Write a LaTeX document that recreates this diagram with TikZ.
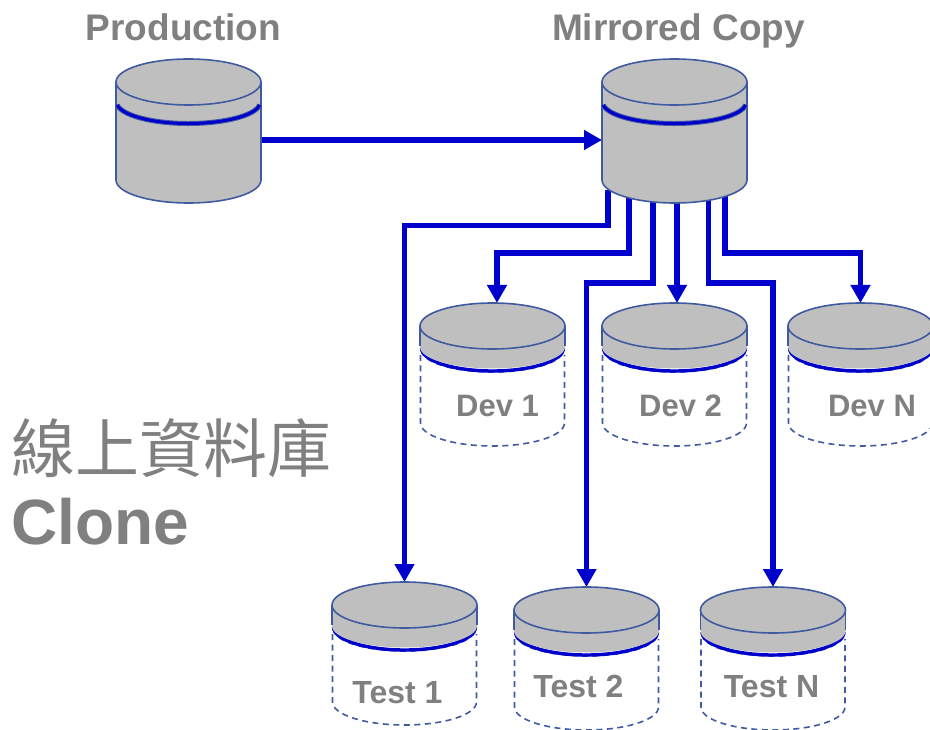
\documentclass[tikz,border=0pt]{standalone}
\usepackage{fontspec}
\usepackage{xcolor}
\usetikzlibrary{arrows.meta}
\usetikzlibrary{calc}
\usetikzlibrary{backgrounds}
\setmainfont{Liberation Sans}
\newfontfamily\cjk{Noto Sans CJK TC}

\definecolor{diskgray}{HTML}{BFBFBF}
\definecolor{diskline}{HTML}{3F5AA0}
\definecolor{linkblue}{HTML}{0000CC}
\definecolor{textgray}{HTML}{808080}

\tikzset{
  diskedge/.style={draw=diskline, line width=1.6pt},
  link/.style={draw=linkblue, line width=5.7pt, -{Triangle[length=18pt,width=19pt]}},
  toplabel/.style={text=textgray, inner sep=0pt, anchor=base, font=\fontsize{37}{40}\selectfont\bfseries},
  disklabel/.style={text=textgray, inner sep=0pt, anchor=base, font=\fontsize{31}{34}\selectfont\bfseries},
  testlabel/.style={text=textgray, inner sep=0pt, anchor=base, font=\fontsize{32}{34}\selectfont\bfseries},
  fulldisk/.pic={
    \coordinate (-top) at (0,0);
    \path[fill=diskgray, diskedge] (-72.5,-23) -- (-72.5,-121) arc[start angle=180,end angle=360,x radius=72.5,y radius=23] -- (72.5,-23);
    \path[fill=diskgray, diskedge] (0,-23) ellipse [x radius=72.5,y radius=23];
    \draw[diskline, line width=5pt] (-71.3,-46) arc[start angle=188,end angle=352,x radius=72,y radius=21.5];
    \draw[linkblue, line width=3pt] (-71.3,-46) arc[start angle=188,end angle=352,x radius=72,y radius=21.5];
  },
  shortdisk/.pic={
    \coordinate (-top) at (0,0);
    % Empty part
    \draw[diskline, line width=1.6pt, dash pattern=on 6pt off 4.5pt] (-72,-52) -- (-72,-120) arc[start angle=180,end angle=360,x radius=72,y radius=23] -- (72,-52);
    \draw[diskline, line width=1.6pt, dash pattern=on 6pt off 4.5pt] (-71,-47) arc[start angle=180,end angle=360,x radius=71,y radius=22];
    % Used part
    \draw[linkblue, line width=3.4pt] (-71,-45) arc[start angle=180,end angle=360,x radius=71,y radius=23];
    \path[fill=diskgray, draw=none] (-72.5,-23) -- (-72.5,-44) arc[start angle=180,end angle=360,x radius=72.5,y radius=21.5] -- (72.5,-23);
    \draw[diskedge] (-72.5,-23) -- (-72.5,-43);
    \draw[diskedge] (72.5,-23) -- (72.5,-43);
    \path[fill=diskgray, diskedge] (0,-23) ellipse [x radius=72.5,y radius=23];
  }
}

\begin{document}
\begin{tikzpicture}[x=1pt,y=1pt]

        \useasboundingbox (0,0) rectangle (930,-730);

        % Disks
        \pic (Prod) at (188.5,-59) {fulldisk};
        \pic (Mirror) at (674.5,-59) {fulldisk};
        \foreach \n/\x/\y in {Dev1/492.5/303,Dev2/674.5/303,DevN/860.5/303,Test1/404.5/582,Test2/586.5/587,TestN/773/587}
        {
          \pic (\n) at (\x,-\y) {shortdisk};
        }

        % Connectors
        \coordinate (ProdOut) at ($(Prod-top)+(72.5,-81)$);
        \coordinate (MirrorIn) at ($(Mirror-top)+(-72.5,-81)$);
        \begin{pgfonlayer}{background}
        \draw[link] (ProdOut) -- (MirrorIn);
        \foreach \a/\b/\h/\t in {-66.5/Test1/35.5/0,-45.5/Dev1/63/4.5,-21.5/Test2/93/0,34/TestN/93/0,50.5/DevN/63/0}
        {
          \coordinate (Out\b) at ($(Mirror-top)+(\a,-131)$);
          \draw[link] (Out\b) -- ++(0,-\h) -| ($(\b-top)+(\t,0)$);
        }
        \coordinate (OutDev2) at ($(Dev2-top)+(2.5,-0)$);
        \draw[link] (OutDev2 |- OutDev1) -- (OutDev2);
        \end{pgfonlayer}

        % Labels
        \node[toplabel] (ProdText) at (183.5,-41) {Production};
        \node[toplabel] (MirrorText) at (678.5,-41) {Mirrored Copy};
        \node[disklabel] (Dev1Text) at (497.5,-417) {Dev 1};
        \node[disklabel] (Dev2Text) at (680.5,-417) {Dev 2};
        \node[disklabel] (DevNText) at (872,-417) {Dev N};
        \node[testlabel] (Test1Text) at (397.5,-703) {Test 1};
        \node[testlabel] (Test2Text) at (578.5,-697) {Test 2};
        \node[testlabel] (TestNText) at (771.5,-697) {Test N};

        \node[text=textgray, inner sep=0pt, anchor=base west, font=\fontsize{64}{70}\selectfont\cjk] (TitleCn) at (11,-472) {線上資料庫};
        \node[text=textgray, inner sep=0pt, anchor=base west, font=\fontsize{64}{70}\selectfont\bfseries] (TitleEn) at (11,-544) {Clone};
\end{tikzpicture}
\end{document}
